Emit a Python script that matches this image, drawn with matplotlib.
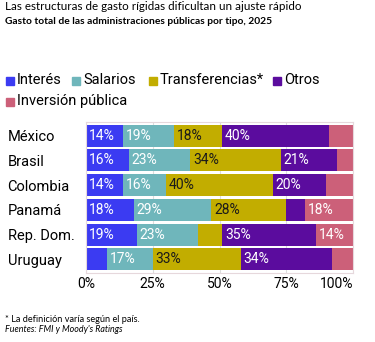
import numpy as np
import matplotlib
matplotlib.use('Agg')
import matplotlib.pyplot as plt
from matplotlib.patches import Rectangle

countries = ['México', 'Brasil', 'Colombia', 'Panamá', 'Rep. Dom.', 'Uruguay']
series = ['Interés', 'Salarios', 'Transferencias*', 'Otros', 'Inversión pública']
interes = [14, 16, 14, 18, 19, 8]
salarios = [19, 23, 16, 29, 23, 17]
transferencias = [18, 34, 40, 28, 9, 33]
otros = [40, 21, 20, 7, 35, 34]
inversion = [9, 6, 10, 18, 14, 8]
ticks = [0, 25, 50, 75, 100]
tick_labels = ['0%', '25%', '50%', '75%', '100%']

colors = ['#3b3bf2', '#6fb6bb', '#c2ad00', '#5b0c9e', '#cc6079']
text_colors = ['white', 'white', '#1a1a1a', 'white', 'white']

W, H = 375, 342
fig = plt.figure(figsize=(W / 100, H / 100), dpi=100)
ax = fig.add_axes([86 / W, 1 - 273 / H, 267 / W, 151 / H])

font = 'Roboto'
data = np.array([interes, salarios, transferencias, otros, inversion])
y = np.arange(len(countries))
left = np.zeros(len(countries))
for vals, col, tc in zip(data, colors, text_colors):
    ax.barh(y, vals, left=left, height=0.88, color=col, zorder=2)
    for yi, v, l in zip(y, vals, left):
        if v >= 12:
            ax.annotate(f'{v}%', (l, yi), xytext=(2, 0), textcoords='offset points',
                        ha='left', va='center', color=tc, fontsize=10, family=font,
                        zorder=3)
    left += vals

ax.set_xlim(0, 100)
ax.set_ylim(len(countries) - 0.45, -0.55)
ax.set_xticks(ticks, tick_labels, family=font, fontsize=10)
ax.get_xticklabels()[-1].set_ha('right')
ax.set_yticks(y, countries, family=font, fontsize=10.5)
for lab in ax.get_yticklabels():
    lab.set_ha('left')
ax.tick_params(axis='y', length=0, pad=56.5)
ax.tick_params(axis='x', length=0, pad=3)
ax.grid(axis='x', color='#dddddd', lw=0.8, zorder=0)
for s in ax.spines.values():
    s.set_color('#e6d8dc')
    s.set_linewidth(0.8)

# titles
fig.text(5 / W, 1 - 7 / H, 'Las estructuras de gasto rígidas dificultan un ajuste rápido',
         family='Lato', fontsize=8.4, va='center', ha='left')
fig.text(5 / W, 1 - 21 / H, 'Gasto total de las administraciones públicas por tipo, 2025',
         family='Lato', fontsize=7.4, fontweight='bold', va='center', ha='left')

# legend
leg_pos = [(6, 80.5), (72, 80.5), (149, 80.5), (273, 80.5), (6, 101.5)]
for (lx, ly), name, col in zip(leg_pos, series, colors):
    fig.add_artist(Rectangle((lx / W, 1 - (ly + 4) / H), 7.5 / W, 7.5 / H,
                             color=col, transform=fig.transFigure))
    fig.text((lx + 11) / W, 1 - ly / H, name, family=font, fontsize=10.5,
             va='center', ha='left')

# notes
fig.text(5 / W, 1 - 319 / H, '* La definición varía según el país.',
         family='Lato', fontsize=6.6, va='center', ha='left')
fig.text(5 / W, 1 - 330 / H, "Fuentes: FMI y Moody's Ratings",
         family='Lato', fontsize=6.4, style='italic', va='center', ha='left')

fig.savefig('out.png', dpi=100)
